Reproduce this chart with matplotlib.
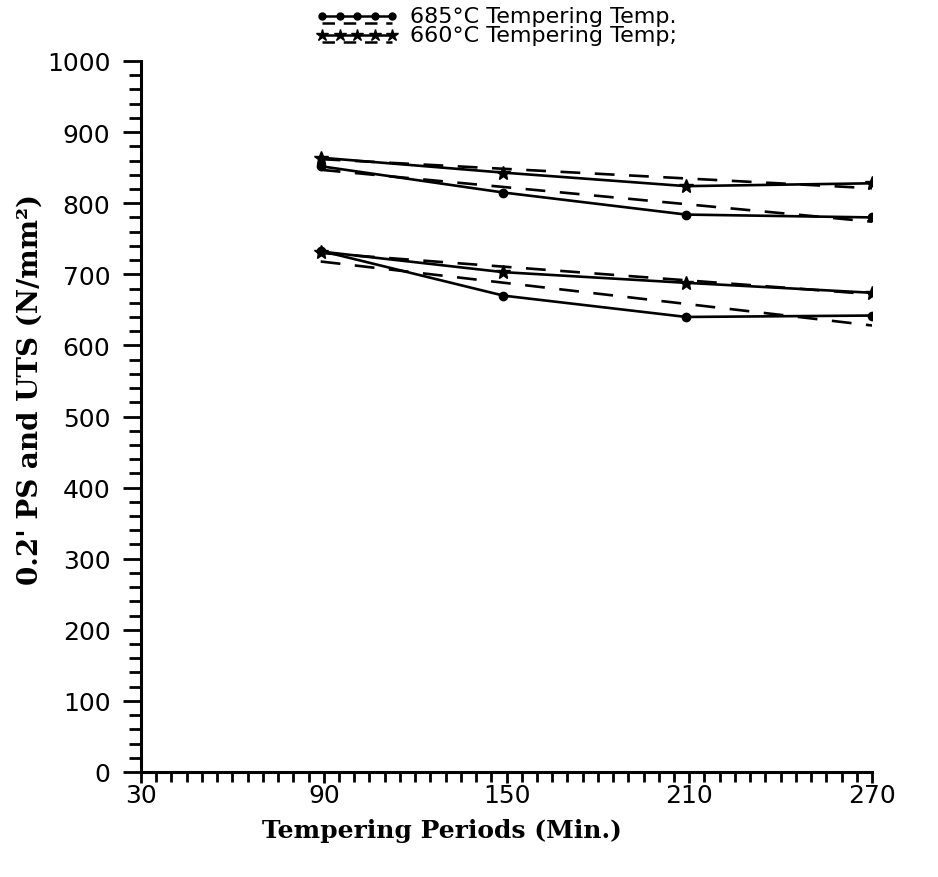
import numpy as np
import matplotlib
matplotlib.use("Agg")
import matplotlib.pyplot as plt
from matplotlib.ticker import MultipleLocator

# Tempering periods (min) as drawn
periods = [89, 149, 209, 270]

# 685 C tempering (circles)
uts_685 = [852, 815, 784, 780]
ps_685 = [733, 670, 640, 642]
# 660 C tempering (stars)
uts_660 = [864, 843, 824, 828]
ps_660 = [732, 703, 688, 674]

# dashed trend lines, end points
fit_x = [89, 270]
fit_uts_685 = [847, 774]
fit_ps_685 = [718, 628]
fit_uts_660 = [862, 821]
fit_ps_660 = [730, 672]

x_ticks = [30, 90, 150, 210, 270]
y_ticks = list(range(0, 1001, 100))

legend_labels = ["685°C Tempering Temp.", "660°C Tempering Temp;"]

fig = plt.figure(figsize=(9.38, 8.78), dpi=100)
# axes box: x 141..872 px, y 62..773 px
ax = fig.add_axes([141 / 938, 105 / 878, 731 / 938, 711 / 878])

lw = 1.9
dash = (7.5, 5.5)
for y in (uts_685, ps_685):
    ax.plot(periods, y, color="black", lw=lw, marker="o", ms=6)
for y in (uts_660, ps_660):
    ax.plot(periods, y, color="black", lw=lw, marker="*", ms=10)
for y in (fit_uts_685, fit_ps_685, fit_uts_660, fit_ps_660):
    ax.plot(fit_x, y, color="black", lw=lw, dashes=dash)

ax.set_xlim(30, 270)
ax.set_ylim(0, 1000)
ax.spines["top"].set_visible(False)
ax.spines["right"].set_visible(False)
ax.spines["left"].set_linewidth(2.2)
ax.spines["bottom"].set_linewidth(2.2)

ax.set_xticks(x_ticks)
ax.set_yticks(y_ticks)
ax.xaxis.set_minor_locator(MultipleLocator(5))
ax.yaxis.set_minor_locator(MultipleLocator(20))
ax.tick_params(axis="y", which="major", direction="out", length=13,
               width=2.0, labelsize=18, pad=9)
ax.tick_params(axis="y", which="minor", direction="out", length=9, width=2.0)
ax.tick_params(axis="x", which="major", direction="out", length=8,
               width=2.0, labelsize=18, pad=0)
ax.tick_params(axis="x", which="minor", direction="out", length=7, width=2.0)
for lab in ax.get_xticklabels() + ax.get_yticklabels():
    lab.set_family("DejaVu Sans")

ax.set_xlabel("Tempering Periods (Min.)", family="DejaVu Serif",
              fontweight="bold", fontsize=18)
ax.set_ylabel("0.2' PS and UTS (N/mm²)", family="DejaVu Serif",
              fontweight="bold", fontsize=20)
ax.xaxis.set_label_coords(0.412, -0.081)
ax.xaxis.label.set_va("center")
ax.yaxis.set_label_coords(-0.152, 0.539)
ax.yaxis.label.set_va("center")

# legend drawn by hand above the plot
lx = np.linspace(0.248, 0.344, 5)
for row, (mk, ms) in enumerate([("o", 5), ("*", 9)]):
    yrow = 1.0633 - row * 0.027
    ax.plot(lx, [yrow] * 5, color="black", lw=1.8, marker=mk, ms=ms,
            transform=ax.transAxes, clip_on=False)
    ax.plot([lx[0], lx[-1]], [yrow - 0.010] * 2, color="black", lw=1.8,
            dashes=(5, 3.5), transform=ax.transAxes, clip_on=False)
    ax.text(0.368, yrow, legend_labels[row], transform=ax.transAxes,
            family="DejaVu Sans", fontsize=16, va="center", ha="left")

fig.savefig("out.png", dpi=100)
